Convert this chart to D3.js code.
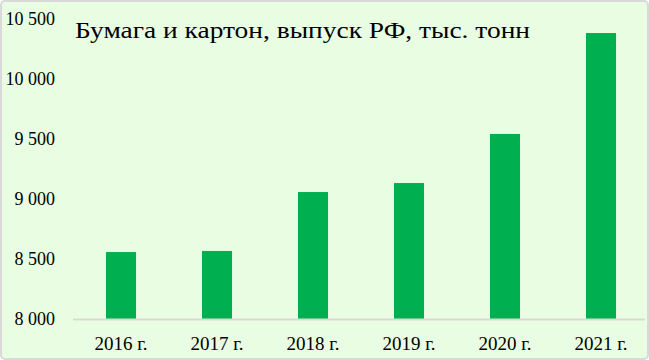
<!DOCTYPE html>
<html><head><meta charset="utf-8">
<script src="https://cdn.jsdelivr.net/npm/d3@7"></script>
<style>
html,body{margin:0;padding:0;background:#fff;}
svg{display:block;}
svg text{font-family:"Liberation Serif","DejaVu Serif",serif;}
</style></head>
<body>
<svg id="chart" width="649" height="360"></svg>
<script>
const categories = ["2016 г.", "2017 г.", "2018 г.", "2019 г.", "2020 г.", "2021 г."];
const values = [8558, 8567, 9058, 9133, 9542, 10383];
const yTicks = [8000, 8500, 9000, 9500, 10000, 10500];
const title = "Бумага и картон, выпуск РФ, тыс. тонн";

const W = 649, H = 360;
const svg = d3.select("#chart");
const font = '"Liberation Serif", "DejaVu Serif", serif';

svg.append("rect").attr("x", 1).attr("y", 1).attr("width", W - 2).attr("height", H - 2)
  .attr("rx", 4).attr("fill", "#e8fde2").attr("stroke", "#d9d9d9").attr("stroke-width", 2);

const x = d3.scaleBand().domain(categories).range([73, 649]);
const y = d3.scaleLinear().domain([8000, 10500]).range([319, 19]);
const barW = 30;

svg.append("g").selectAll("rect").data(values).join("rect")
  .attr("x", (d, i) => x(categories[i]) + x.bandwidth() / 2 - barW / 2)
  .attr("width", barW)
  .attr("y", d => y(d))
  .attr("height", d => y(8000) - y(d))
  .attr("fill", "#00b050");

svg.append("line").attr("x1", 73).attr("x2", 645).attr("y1", y(8000) + 0.5).attr("y2", y(8000) + 0.5)
  .attr("stroke", "#d9d9d9").attr("stroke-width", 2);

const fmt = v => d3.format(",")(v).replace(/,/g, " ");
const yAxis = d3.axisLeft(y).tickValues(yTicks).tickSize(0).tickPadding(0).tickFormat(fmt);
const gy = svg.append("g").attr("transform", "translate(55,0)").call(yAxis);
gy.select(".domain").remove();
gy.attr("font-family", null).attr("font-size", null);
gy.selectAll("text").style("font-family", font).style("font-size", "18px").attr("fill", "#000")
  .attr("dy", "0.32em");

const xAxis = d3.axisBottom(x).tickSize(0).tickPadding(0);
const gx = svg.append("g").attr("transform", "translate(0,344)").call(xAxis);
gx.select(".domain").remove();
gx.attr("font-family", null).attr("font-size", null);
gx.selectAll("text").style("font-family", font).style("font-size", "19px").attr("fill", "#000").attr("dy", "0.32em");

svg.append("text").attr("x", 75).attr("y", 38).style("font-family", font).style("font-size", "24px")
  .attr("fill", "#000").attr("textLength", 455).attr("lengthAdjust", "spacingAndGlyphs").text(title);
</script>
</body></html>
